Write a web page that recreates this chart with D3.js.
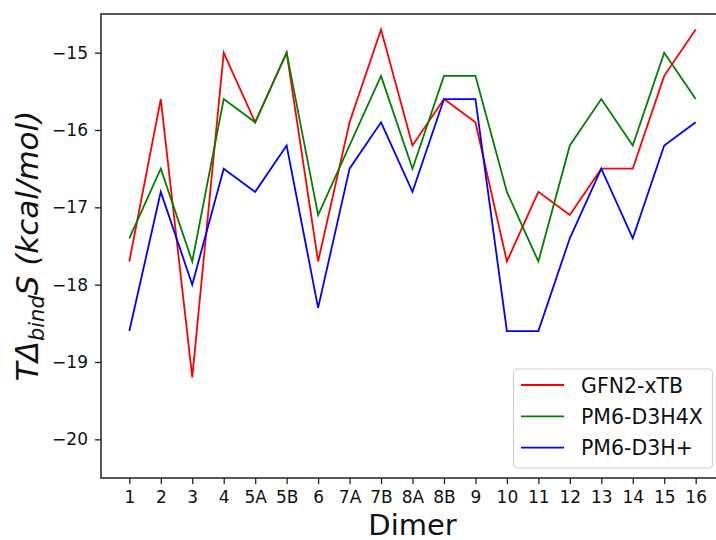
<!DOCTYPE html>
<html>
<head>
<meta charset="utf-8">
<script src="https://cdn.jsdelivr.net/npm/d3@7"></script>
<style>
  body { margin: 0; background: #fff; }
  text { font-family: "DejaVu Sans", sans-serif; fill: #111; }
</style>
</head>
<body>
<svg id="chart" width="716" height="540"></svg>
<script>
// ---- data ----
var dimers = ["1","2","3","4","5A","5B","6","7A","7B","8A","8B","9","10","11","12","13","14","15","16"];
var gfn2 = [-17.7,-15.6,-19.2,-15.0,-15.9,-15.0,-17.7,-15.9,-14.7,-16.2,-15.6,-15.9,-17.7,-16.8,-17.1,-16.5,-16.5,-15.3,-14.7];
var pm6h4x = [-17.4,-16.5,-17.7,-15.6,-15.9,-15.0,-17.1,-16.2,-15.3,-16.5,-15.3,-15.3,-16.8,-17.7,-16.2,-15.6,-16.2,-15.0,-15.6];
var pm6hplus = [-18.6,-16.8,-18.0,-16.5,-16.8,-16.2,-18.3,-16.5,-15.9,-16.8,-15.6,-15.6,-18.6,-18.6,-17.4,-16.5,-17.4,-16.2,-15.9];
var yTicks = [-20,-19,-18,-17,-16,-15];

var series = [
  {name: "GFN2-xTB", values: gfn2, color: "#ff0000"},
  {name: "PM6-D3H4X", values: pm6h4x, color: "#008000"},
  {name: "PM6-D3H+", values: pm6hplus, color: "#0000ff"}
];

// ---- layout ----
var plotLeft = 101, plotTop = 14, plotRight = 724, plotBottom = 478;
var svg = d3.select("#chart");

var x = d3.scaleLinear().domain([-0.9, dimers.length - 1 + 0.9]).range([plotLeft, plotRight]);
var y = d3.scaleLinear().domain([-20.5, -14.5]).range([plotBottom, plotTop]);

// lines
var line = d3.line()
  .x(function (d, i) { return x(i); })
  .y(function (d) { return y(d); });

series.forEach(function (s) {
  svg.append("path")
    .attr("d", line(s.values))
    .attr("fill", "none")
    .attr("stroke", s.color)
    .attr("stroke-width", 1.8)
    .attr("stroke-linejoin", "miter");
});

// axes
var xAxis = d3.axisBottom(x)
  .tickValues(d3.range(dimers.length))
  .tickFormat(function (i) { return dimers[i]; })
  .tickSize(6).tickPadding(7);
var yAxis = d3.axisLeft(y)
  .tickValues(yTicks)
  .tickFormat(function (d) { return "\u2212" + Math.abs(d); })
  .tickSize(6).tickPadding(7);

var gx = svg.append("g").attr("transform", "translate(0," + plotBottom + ")").call(xAxis);
var gy = svg.append("g").attr("transform", "translate(" + plotLeft + ",0)").call(yAxis);
[gx, gy].forEach(function (g) {
  g.select(".domain").remove();
  g.selectAll(".tick line").attr("stroke", "#222").attr("stroke-width", 1.3);
  g.selectAll(".tick text").style("font-size", "17px").attr("fill", "#111");
});

// spines
svg.append("rect")
  .attr("x", plotLeft).attr("y", plotTop)
  .attr("width", plotRight - plotLeft).attr("height", plotBottom - plotTop)
  .attr("fill", "none").attr("stroke", "#222").attr("stroke-width", 1.5);

// axis labels
svg.append("text")
  .attr("x", (plotLeft + plotRight) / 2).attr("y", 535)
  .attr("text-anchor", "middle")
  .style("font-size", "29px")
  .text("Dimer");

var yl = svg.append("text")
  .attr("transform", "translate(38," + (plotTop + plotBottom) / 2 + ") rotate(-90)")
  .attr("text-anchor", "middle")
  .style("font-size", "31px")
  .style("font-style", "italic");
yl.append("tspan").text("T\u0394");
yl.append("tspan").attr("dy", 6).style("font-size", "21px").text("bind");
yl.append("tspan").attr("dy", -6).text("S (kcal/mol)");

// legend
var lg = svg.append("g");
lg.append("rect")
  .attr("x", 513.5).attr("y", 369)
  .attr("width", 199).attr("height", 99)
  .attr("rx", 4)
  .attr("fill", "#fff").attr("fill-opacity", 0.8)
  .attr("stroke", "#d0d0d0").attr("stroke-width", 1.2);
series.forEach(function (s, i) {
  var yy = 385 + i * 31.3;
  lg.append("line")
    .attr("x1", 521).attr("x2", 564)
    .attr("y1", yy).attr("y2", yy)
    .attr("stroke", s.color).attr("stroke-width", 1.8);
  lg.append("text")
    .attr("x", 581).attr("y", yy + 7.5)
    .style("font-size", "20.5px")
    .text(s.name);
});
</script>
</body>
</html>
